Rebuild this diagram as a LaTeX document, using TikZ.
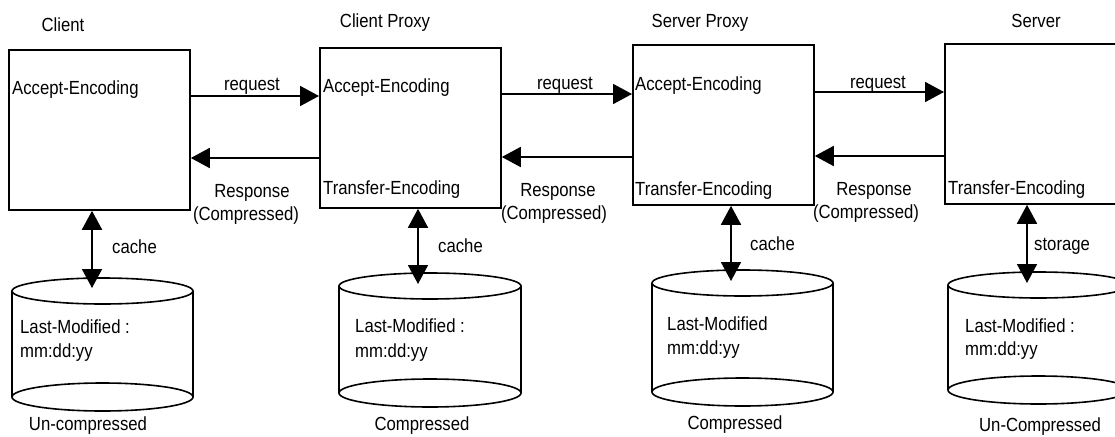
\documentclass[tikz,border=0pt]{standalone}
\usepackage{fontspec}
\setmainfont{Liberation Sans}[FakeStretch=0.88]
\usetikzlibrary{arrows.meta}

% storage drum: name, left x, right x, top-ellipse y, bottom-ellipse y
\newcommand\drawdrum[5]{%
  \coordinate (#1-top) at ({(#2+#3)/2},#4);
  \coordinate (#1-bot) at ({(#2+#3)/2},#5);
  \draw[drum] (#2,#4) -- (#2,#5) (#3,#4) -- (#3,#5);
  \draw[drum] (#1-top) ellipse [x radius={(#3-#2)/2*1pt}, y radius=13pt];
  \draw[drum] (#1-bot) ellipse [x radius={(#3-#2)/2*1pt}, y radius=14pt];
}

\begin{document}
\begin{tikzpicture}[x=1pt,y=-1pt,
  txt/.style={inner sep=0pt, font=\fontsize{19}{22}\selectfont},
  hostbox/.style={draw, line width=1.8pt, minimum width=181pt,
    minimum height=160pt, inner sep=0pt, anchor=north west},
  tip/.tip={Triangle[length=19pt,width=20pt]},
  link/.style={line width=1.8pt, -tip},
  both/.style={line width=1.8pt, tip-tip},
  drum/.style={line width=1.6pt}]
\useasboundingbox (0,0) rectangle (1115,436);
\clip (0,0) rectangle (1115,436);

% hosts
\node[hostbox] (cl) at (8,49)   {};
\node[hostbox] (cp) at (319,47) {};
\node[hostbox] (sp) at (632,44) {};
\node[hostbox] (sv) at (944,43) {};

% titles
\node[txt, anchor=base] (tcl) at (63,32)   {Client};
\node[txt, anchor=base] (tcp) at (385,28)  {Client Proxy};
\node[txt, anchor=base] (tsp) at (700,28)  {Server Proxy};
\node[txt, anchor=base] (tsv) at (1036,28) {Server};

% header fields inside the hosts
\node[txt, anchor=base west] (aecl) at (12,94)  {Accept-Encoding};
\node[txt, anchor=base west] (aecp) at (323,92) {Accept-Encoding};
\node[txt, anchor=base west] (aesp) at (635,90) {Accept-Encoding};
\node[txt, anchor=base west] (tecp) at (323,194) {Transfer-Encoding};
\node[txt, anchor=base west] (tesp) at (635,195) {Transfer-Encoding};
\node[txt, anchor=base west] (tesv) at (948,194) {Transfer-Encoding};

% requests
\draw[link] (cl.east |- 0,96) -- (cp.west |- 0,96);
\draw[link] (cp.east |- 0,94) -- (sp.west |- 0,94);
\draw[link] (sp.east |- 0,92) -- (sv.west |- 0,92);
\node[txt, anchor=base] (rq1) at (252,90) {request};
\node[txt, anchor=base] (rq2) at (565,89) {request};
\node[txt, anchor=base] (rq3) at (878,88) {request};

% responses
\draw[link] (cp.west |- 0,158) -- (cl.east |- 0,158);
\draw[link] (sp.west |- 0,157) -- (cp.east |- 0,157);
\draw[link] (sv.west |- 0,156) -- (sp.east |- 0,156);
\node[txt, anchor=base] (rs1) at (252,197) {Response};
\node[txt, anchor=base] (rc1) at (246,220) {(Compressed)};
\node[txt, anchor=base] (rs2) at (558,196) {Response};
\node[txt, anchor=base] (rc2) at (554,219) {(Compressed)};
\node[txt, anchor=base] (rs3) at (874,195) {Response};
\node[txt, anchor=base] (rc3) at (866,218) {(Compressed)};

% storage drums
\drawdrum{d1}{12}{193}{291}{397}
\drawdrum{d2}{339}{521}{286}{393}
\drawdrum{d3}{652}{833}{283}{392}
\drawdrum{d4}{948}{1129}{285}{390}

\coordinate (k1) at (92,288);
\coordinate (k2) at (418,284);
\coordinate (k3) at (731,281);
\coordinate (k4) at (1027,283);
\draw[both] (cl.south -| k1) -- (k1);
\draw[both] (cp.south -| k2) -- (k2);
\draw[both] (sp.south -| k3) -- (k3);
\draw[both] (sv.south -| k4) -- (k4);
\node[txt, anchor=base west] (ca1) at (112,253)  {cache};
\node[txt, anchor=base west] (ca2) at (438,252)  {cache};
\node[txt, anchor=base west] (ca3) at (750,250)  {cache};
\node[txt, anchor=base west] (st4) at (1034,250) {storage};

% drum contents
\node[txt, anchor=base west] (lm1) at (20,333)  {Last-Modified :};
\node[txt, anchor=base west] (dt1) at (20,357)  {mm:dd:yy};
\node[txt, anchor=base west] (lm2) at (355,332) {Last-Modified :};
\node[txt, anchor=base west] (dt2) at (355,357) {mm:dd:yy};
\node[txt, anchor=base west] (lm3) at (667,330) {Last-Modified};
\node[txt, anchor=base west] (dt3) at (667,354) {mm:dd:yy};
\node[txt, anchor=base west] (lm4) at (965,332) {Last-Modified :};
\node[txt, anchor=base west] (dt4) at (965,355) {mm:dd:yy};

% drum captions
\node[txt, anchor=base] (cap1) at (88,430)   {Un-compressed};
\node[txt, anchor=base] (cap2) at (422,430)  {Compressed};
\node[txt, anchor=base] (cap3) at (735,429)  {Compressed};
\node[txt, anchor=base] (cap4) at (1040,431) {Un-Compressed};
\end{tikzpicture}
\end{document}
